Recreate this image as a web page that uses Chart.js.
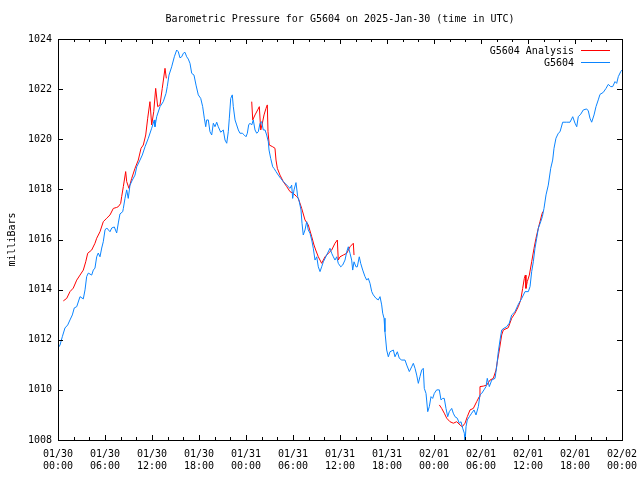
<!DOCTYPE html>
<html>
<head>
<meta charset="utf-8">
<script src="https://cdn.jsdelivr.net/npm/chart.js@4/dist/chart.umd.min.js"></script>
<style>
    body { margin: 0; background: #fff; }
    #wrap { width: 640px; height: 480px; }
</style>
</head>
<body>
<div id="wrap"><canvas id="pressureChart" width="640" height="480"></canvas></div>
<script>
// hours since 2025-01-30 00:00 UTC
const chartTitle = "Barometric Pressure for G5604 on 2025-Jan-30 (time in UTC)";
const timeDays = ["01/30", "01/30", "01/30", "01/30", "01/31", "01/31", "01/31", "01/31", "02/01", "02/01", "02/01", "02/01", "02/02"];
const timeClock = ["00:00", "06:00", "12:00", "18:00", "00:00", "06:00", "12:00", "18:00", "00:00", "06:00", "12:00", "18:00", "00:00"];
const pressureTicks = [1008, 1010, 1012, 1014, 1016, 1018, 1020, 1022, 1024];

const stationHours = [
    0, 0.26, 0.55, 0.89, 1.24, 1.53, 1.83, 2.08, 2.39, 2.81, 3.23, 3.45, 3.66, 3.87, 4.30, 4.51, 4.72, 4.94, 5.14, 5.36,
    5.58, 5.78, 6.00, 6.22, 6.64, 6.86, 7.19, 7.49, 7.70, 7.91, 8.26, 8.34, 8.55, 8.77, 8.97, 9.19, 9.49, 9.83, 10.05, 10.47,
    10.76, 11.11, 11.53, 11.96, 12.09, 12.29, 12.38, 12.60, 13.02, 13.44, 13.79, 13.95, 14.17, 14.51, 14.85, 15.15, 15.36, 15.57, 15.79, 16.00,
    16.21, 16.43, 16.63, 16.85, 17.07, 17.36, 17.62, 17.91, 18.22, 18.47, 18.68, 18.86, 18.98, 19.19, 19.40, 19.62, 19.83, 20.04, 20.26, 20.46,
    20.77, 21.10, 21.32, 21.54, 21.74, 21.87, 22.05, 22.25, 22.38, 22.60, 22.81, 23.02, 23.23, 23.53, 23.78, 24.00, 24.17, 24.34, 24.51, 24.73,
    24.93, 25.15, 25.37, 25.57, 25.79, 26.00, 26.21, 26.43, 26.64, 26.85, 26.94, 27.15, 27.41, 27.57, 27.83, 28.12, 28.43, 28.76, 29.20, 29.62,
    29.83, 29.96, 30.13, 30.38, 30.60, 30.80, 31.02, 31.15, 31.31, 31.53, 31.75, 31.95, 32.17, 32.39, 32.59, 32.81, 33.03, 33.23, 33.45, 33.66,
    33.87, 34.30, 34.72, 34.94, 35.15, 35.36, 35.58, 35.78, 36.09, 36.34, 36.64, 36.86, 37.06, 37.28, 37.49, 37.62, 37.79, 38.04, 38.21, 38.46,
    38.64, 38.90, 39.19, 39.41, 39.61, 39.83, 40.05, 40.25, 40.60, 40.89, 41.11, 41.32, 41.45, 41.62, 41.74, 41.96, 42.17, 42.38, 42.81, 43.02,
    43.32, 43.57, 43.88, 44.30, 44.52, 44.85, 45.15, 45.36, 45.58, 45.79, 46.00, 46.21, 46.43, 46.63, 46.76, 46.98, 47.20, 47.40, 47.62, 47.83,
    48.04, 48.34, 48.68, 48.89, 49.11, 49.31, 49.53, 49.75, 49.95, 50.26, 50.46, 50.68, 50.97, 51.23, 51.45, 51.66, 51.87, 51.96, 52.09, 52.25,
    52.51, 52.81, 53.11, 53.36, 53.66, 53.87, 54.09, 54.38, 54.64, 54.80, 55.06, 55.37, 55.79, 56.00, 56.21, 56.43, 56.64, 56.94, 57.28, 57.61,
    57.92, 58.34, 58.76, 59.20, 59.62, 60.04, 60.26, 60.47, 60.68, 60.89, 61.11, 61.32, 61.62, 61.83, 62.04, 62.30, 62.59, 62.90, 63.15, 63.32,
    63.57, 63.87, 64.09, 64.43, 64.94, 65.36, 65.71, 66.00, 66.22, 66.42, 66.73, 67.06, 67.49, 67.70, 67.91, 68.13, 68.43, 68.68, 68.97, 69.19,
    69.61, 69.96, 70.25, 70.56, 70.81, 71.11, 71.32, 71.53, 71.84, 72.00
];
const stationMb = [
    1011.67, 1011.79, 1012.12, 1012.47, 1012.59, 1012.79, 1012.99, 1013.27, 1013.32, 1013.72, 1013.63, 1013.99, 1014.52, 1014.66, 1014.58, 1014.78, 1014.86, 1015.31, 1015.46, 1015.31,
    1015.66, 1015.91, 1016.38, 1016.46, 1016.31, 1016.46, 1016.50, 1016.26, 1016.66, 1017.02, 1017.11, 1017.24, 1017.64, 1017.98, 1017.64, 1018.17, 1018.37, 1018.57, 1018.90, 1019.17,
    1019.37, 1019.70, 1020.04, 1020.44, 1020.57, 1020.77, 1020.50, 1020.90, 1021.30, 1021.50, 1021.83, 1022.10, 1022.56, 1022.89, 1023.29, 1023.56, 1023.49, 1023.25, 1023.29, 1023.43,
    1023.47, 1023.29, 1023.20, 1023.03, 1022.63, 1022.56, 1022.16, 1021.77, 1021.63, 1021.30, 1020.84, 1020.50, 1020.77, 1020.77, 1020.30, 1020.17, 1020.64, 1020.50, 1020.68, 1020.50,
    1020.28, 1020.37, 1019.97, 1019.84, 1020.30, 1020.84, 1021.63, 1021.77, 1021.30, 1020.77, 1020.57, 1020.37, 1020.24, 1020.24, 1020.17, 1020.10, 1020.24, 1020.57, 1020.64, 1020.57,
    1020.77, 1020.37, 1020.24, 1020.30, 1020.64, 1020.70, 1020.37, 1020.37, 1020.17, 1019.90, 1019.57, 1019.24, 1018.90, 1018.84, 1018.71, 1018.57, 1018.44, 1018.31, 1018.17, 1018.04,
    1018.17, 1017.64, 1017.98, 1018.27, 1017.71, 1017.51, 1017.18, 1016.65, 1016.18, 1016.38, 1016.71, 1016.38, 1016.25, 1015.98, 1015.65, 1015.18, 1015.31, 1014.91, 1014.72, 1014.91,
    1015.11, 1015.38, 1015.65, 1015.45, 1015.31, 1015.18, 1015.31, 1015.05, 1014.91, 1014.98, 1015.18, 1015.51, 1015.71, 1015.45, 1015.18, 1014.78, 1015.11, 1014.91, 1014.91, 1015.31,
    1015.05, 1014.78, 1014.52, 1014.38, 1014.45, 1014.25, 1013.92, 1013.79, 1013.65, 1013.59, 1013.72, 1013.39, 1013.06, 1012.86, 1012.32, 1011.59, 1011.32, 1011.52, 1011.59, 1011.32,
    1011.52, 1011.26, 1011.19, 1011.19, 1010.99, 1010.73, 1010.92, 1011.06, 1010.86, 1010.59, 1010.26, 1010.53, 1010.79, 1010.86, 1010.06, 1009.86, 1009.13, 1009.33, 1009.73, 1009.66,
    1009.86, 1010.00, 1010.00, 1009.60, 1009.66, 1009.66, 1009.26, 1008.93, 1009.13, 1009.26, 1009.07, 1008.93, 1008.87, 1008.67, 1008.73, 1008.47, 1008.27, 1007.90, 1008.53, 1008.80,
    1008.93, 1009.07, 1009.20, 1009.00, 1009.33, 1009.80, 1009.86, 1010.00, 1010.13, 1010.46, 1010.13, 1010.39, 1010.46, 1010.92, 1011.52, 1011.99, 1012.39, 1012.46, 1012.52, 1012.66,
    1012.99, 1013.12, 1013.41, 1013.65, 1013.92, 1013.92, 1014.12, 1014.72, 1015.11, 1015.65, 1016.05, 1016.45, 1016.71, 1016.91, 1017.24, 1017.78, 1018.17, 1018.84, 1019.17, 1019.64,
    1020.04, 1020.24, 1020.30, 1020.68, 1020.68, 1020.68, 1020.90, 1020.64, 1020.50, 1020.90, 1021.00, 1021.17, 1021.21, 1021.13, 1020.84, 1020.68, 1020.97, 1021.30, 1021.57, 1021.79,
    1021.87, 1022.03, 1022.19, 1022.10, 1022.10, 1022.30, 1022.23, 1022.50, 1022.70, 1022.76
];

// analysis runs, null marks the gap between runs
const analysisHours = [
    0.68, 1.11, 1.53, 1.95, 2.39, 2.81, 3.23, 3.54, 3.79, 4.30, 4.72, 4.94, 5.36, 5.78, 6.22, 6.64, 7.06, 7.49, 7.70, 8.00,
    8.13, 8.34, 8.64, 8.77, 9.06, 9.41, 9.83, 10.25, 10.60, 10.89, 11.20, 11.45, 11.74, 11.96, 12.22, 12.47, 12.73, 13.02, 13.31, 13.66, 13.83,
    19.00,
    24.73, 24.86, 25.15, 25.49, 25.70, 25.88, 26.04, 26.30, 26.55, 26.72, 26.81, 26.97, 27.41, 27.70, 27.83, 28.00, 28.34, 28.76, 29.20, 29.62,
    30.04, 30.47, 30.68, 31.11, 31.53, 31.95, 32.39, 32.68, 32.90, 33.23, 33.66, 34.09, 34.51, 34.94, 35.36, 35.66, 35.78, 36.00, 36.42, 36.86,
    37.28, 37.70, 37.79,
    43.00,
    48.68, 48.98, 49.31, 49.62, 50.04, 50.47, 50.90, 51.32, 51.61, 51.96, 52.25, 52.60, 53.02, 53.45, 53.78, 53.87, 54.30, 54.73, 55.15, 55.57,
    55.92, 56.08, 56.34, 56.64, 56.85, 57.48, 57.92, 58.34, 58.76, 59.07, 59.32, 59.53, 59.66, 59.74, 59.91, 60.17, 60.47, 60.77, 61.02, 61.32,
    61.53, 61.75, 61.88
];
const analysisMb = [
    1013.55, 1013.65, 1013.92, 1014.06, 1014.38, 1014.58, 1014.78, 1015.11, 1015.45, 1015.58, 1015.85, 1016.05, 1016.31, 1016.71, 1016.85, 1016.98, 1017.24, 1017.28, 1017.31, 1017.44,
    1017.71, 1018.11, 1018.71, 1018.31, 1018.04, 1018.44, 1018.84, 1019.17, 1019.64, 1019.77, 1020.17, 1020.84, 1021.50, 1020.57, 1021.10, 1022.03, 1021.30, 1021.37, 1022.03, 1022.83, 1022.43,
    null,
    1021.50, 1020.77, 1020.97, 1021.17, 1021.30, 1020.37, 1020.57, 1020.97, 1021.23, 1021.37, 1020.30, 1019.77, 1019.70, 1019.64, 1019.17, 1018.84, 1018.57, 1018.31, 1018.11, 1017.91,
    1017.84, 1017.71, 1017.64, 1017.24, 1016.78, 1016.58, 1016.11, 1015.78, 1015.58, 1015.31, 1015.05, 1015.31, 1015.45, 1015.58, 1015.85, 1015.98, 1015.18, 1015.31, 1015.38, 1015.45,
    1015.71, 1015.85, 1015.38,
    null,
    1009.40, 1009.26, 1009.07, 1008.87, 1008.73, 1008.67, 1008.73, 1008.60, 1008.53, 1008.67, 1008.93, 1009.20, 1009.26, 1009.53, 1009.73, 1010.13, 1010.15, 1010.19, 1010.39, 1010.46,
    1010.79, 1011.12, 1011.59, 1012.19, 1012.39, 1012.48, 1012.86, 1013.06, 1013.32, 1013.59, 1014.05, 1014.45, 1014.58, 1014.05, 1014.32, 1014.58, 1015.11, 1015.65, 1016.05, 1016.45,
    1016.71, 1016.98, 1017.11
];

function toPoints(hours, values) {
    return hours.map(function (h, i) { return { x: h, y: values[i] }; });
}

Chart.defaults.font.family = "'DejaVu Sans Mono', 'Liberation Mono', monospace";
Chart.defaults.font.size = 10;
Chart.defaults.color = "#000";

// gnuplot style frame with inward tics on all four sides
const frameTics = {
    id: "frameTics",
    afterDatasetsDraw(chart) {
        const { ctx, chartArea: a, scales: { x, y } } = chart;
        ctx.save();
        ctx.strokeStyle = "#000";
        ctx.lineWidth = 1;
        ctx.beginPath();
        for (let h = 0; h <= 72; h += 2) {
            const px = Math.round(x.getPixelForValue(h)) + 0.5;
            const len = h % 6 === 0 ? 5 : 3;
            ctx.moveTo(px, a.bottom); ctx.lineTo(px, a.bottom - len);
            ctx.moveTo(px, a.top); ctx.lineTo(px, a.top + len);
        }
        pressureTicks.forEach(function (p) {
            const py = Math.round(y.getPixelForValue(p)) + 0.5;
            ctx.moveTo(a.left, py); ctx.lineTo(a.left + 5, py);
            ctx.moveTo(a.right, py); ctx.lineTo(a.right - 5, py);
        });
        ctx.stroke();
        ctx.strokeRect(Math.round(a.left) + 0.5, Math.round(a.top) + 0.5, Math.round(a.width), Math.round(a.height));
        ctx.restore();
    }
};

// key in the top right corner: text first, then the line sample
const keyBox = {
    id: "keyBox",
    afterDraw(chart) {
        const { ctx, chartArea: a } = chart;
        ctx.save();
        ctx.font = "10px " + Chart.defaults.font.family;
        ctx.textAlign = "right";
        ctx.textBaseline = "middle";
        chart.data.datasets.forEach(function (ds, i) {
            const ky = Math.round(a.top + 11 + i * 12) + 0.5;
            ctx.fillStyle = "#000";
            ctx.fillText(ds.label, a.right - 48, ky + 1);
            ctx.strokeStyle = ds.borderColor;
            ctx.lineWidth = 1;
            ctx.beginPath();
            ctx.moveTo(a.right - 41, ky);
            ctx.lineTo(a.right - 12, ky);
            ctx.stroke();
        });
        ctx.restore();
    }
};

const ctx = document.getElementById("pressureChart").getContext("2d");
new Chart(ctx, {
    type: "line",
    data: {
        datasets: [{
            label: "G5604 Analysis",
            data: toPoints(analysisHours, analysisMb),
            borderColor: "#ff0000",
            borderWidth: 1,
            pointRadius: 0,
            tension: 0,
            spanGaps: false,
            order: 1
        }, {
            label: "G5604",
            data: toPoints(stationHours, stationMb),
            borderColor: "#0a84ff",
            borderWidth: 1,
            pointRadius: 0,
            tension: 0,
            order: 0
        }]
    },
    options: {
        responsive: false,
        animation: false,
        layout: { padding: { right: 18 } },
        plugins: {
            legend: { display: false },
            tooltip: { enabled: false },
            title: {
                display: true,
                text: chartTitle,
                fullSize: false,
                font: { size: 10, weight: "normal" },
                color: "#000",
                padding: { top: 13, bottom: 14 }
            }
        },
        scales: {
            x: {
                type: "linear",
                min: 0,
                max: 72,
                grid: { display: false, drawTicks: false },
                border: { display: false },
                ticks: {
                    stepSize: 6,
                    autoSkip: false,
                    maxRotation: 0,
                    padding: 8,
                    callback: function (v) {
                        const i = Math.round(v / 6);
                        return [timeDays[i], timeClock[i]];
                    }
                },
                afterFit: function (s) {
                    s.height = 40;
                    s.paddingLeft = 0;
                    s.paddingRight = 0;
                }
            },
            y: {
                min: 1008,
                max: 1024,
                grid: { display: false, drawTicks: false },
                border: { display: false },
                ticks: {
                    stepSize: 2,
                    padding: 6,
                    callback: function (v) { return String(v); }
                },
                title: {
                    display: true,
                    text: "milliBars",
                    padding: { top: 6, bottom: 0 }
                },
                afterFit: function (s) {
                    s.width = 58;
                    s.paddingTop = 0;
                    s.paddingBottom = 0;
                }
            }
        }
    },
    plugins: [frameTics, keyBox]
});
</script>
</body>
</html>
